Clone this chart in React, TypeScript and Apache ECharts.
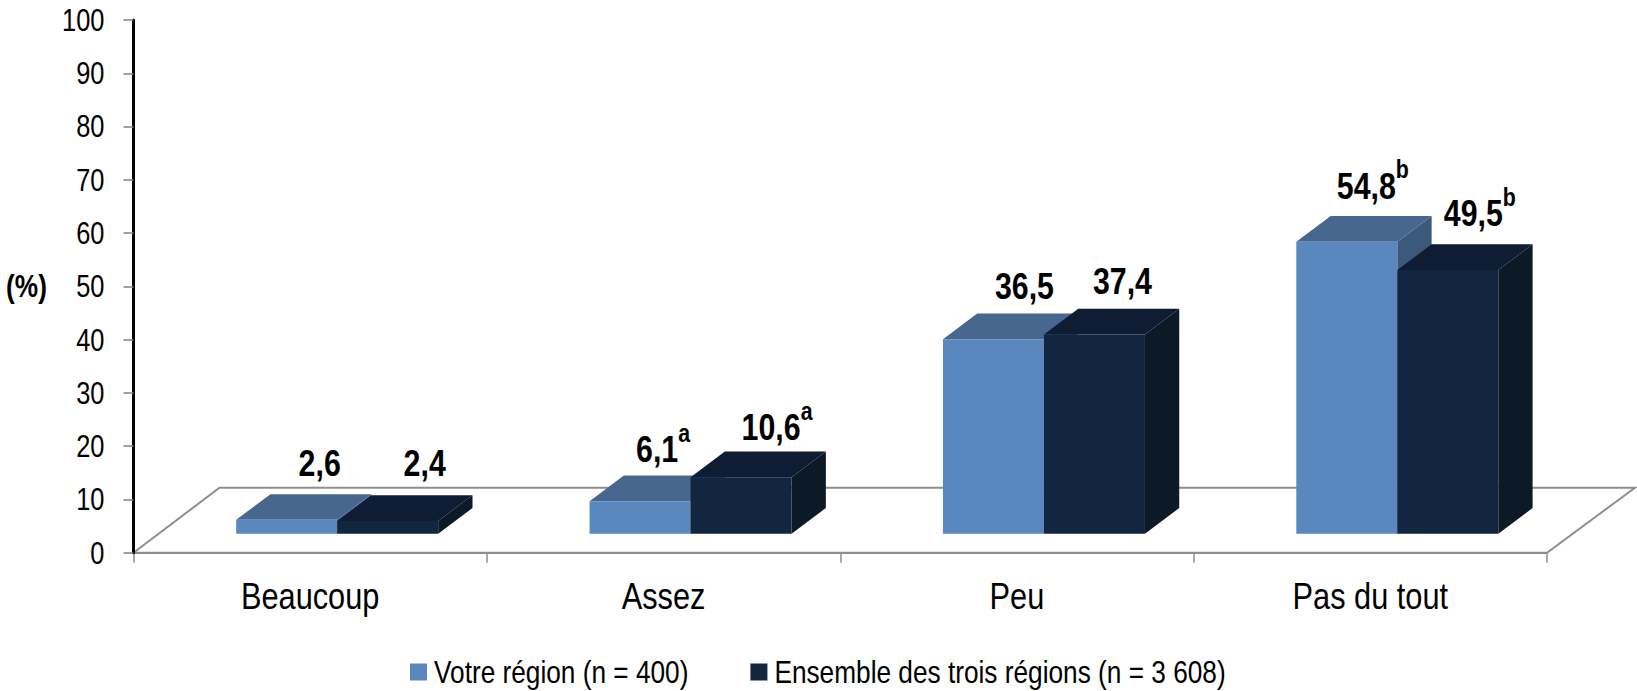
import React, { useEffect, useRef } from "react";
import * as echarts from "echarts";

const categories = ["Beaucoup", "Assez", "Peu", "Pas du tout"];
const yTicks = { min: 0, max: 100, interval: 10 };
const seriesNames = ["Votre région (n = 400)", "Ensemble des trois régions (n = 3 608)"];
const regionValues = [2.6, 6.1, 36.5, 54.8];
const allValues = [2.4, 10.6, 37.4, 49.5];
const regionLabels = ["2,6", "6,1", "36,5", "54,8"];
const allLabels = ["2,4", "10,6", "37,4", "49,5"];
const regionMarks = ["", "a", "", "b"];
const allMarks = ["", "a", "", "b"];

const FONT = '"Liberation Sans", Arial, sans-serif';
const NARROW = 0.82;
const BAR_W = 101;
const BAR_SHIFT = 27;
const LIFT = 19;
const DX = 34.3;
const DY = 25.7;
const labelDx = [
  [33, 37],
  [23, 36],
  [31, 28],
  [26, 32],
];
const labelDy = [
  [5, 6],
  [0, -2],
  [1, 1],
  [4, 5],
];
const palette = [
  { front: "#5B87BF", top: "#47678F", side: "#3C597C" },
  { front: "#12263F", top: "#0E1D33", side: "#0C1927" },
];

function floorItem(_: any, api: any) {
  const [x0, y0] = api.coord([0, 0]);
  const size = api.size([1, 0]);
  const x1 = x0 + size[0] * 3.5;
  const xl = x0 - size[0] * 0.5;
  const top = y0 - 65;
  return {
    type: "polygon",
    silent: true,
    shape: { points: [[xl, y0], [xl + 86, top], [x1 + 88, top], [x1, y0]] },
    style: { fill: "#FFFFFF", stroke: "#8E8E8E", lineWidth: 2 },
  };
}

function barItem(s: number, labels: string[], marks: string[]) {
  return (params: any, api: any) => {
    const i = api.value(0);
    const c = api.coord([i, api.value(1)]);
    const base = api.coord([i, 0]);
    const left = c[0] + BAR_SHIFT + (s === 0 ? -BAR_W : 0);
    const right = left + BAR_W;
    const yTop = c[1] - LIFT;
    const yBot = base[1] - LIFT;
    const col = palette[s];
    const mark = marks[params.dataIndex];
    const text = `{v|${labels[params.dataIndex]}}` + (mark ? `{s|${mark}}` : "");
    return {
      type: "group",
      children: [
        {
          type: "polygon",
          shape: { points: [[right, yTop], [right + DX, yTop - DY], [right + DX, yBot - DY], [right, yBot]] },
          style: { fill: col.side },
        },
        {
          type: "polygon",
          shape: { points: [[left, yTop], [left + DX, yTop - DY], [right + DX, yTop - DY], [right, yTop]] },
          style: { fill: col.top },
        },
        {
          type: "rect",
          shape: { x: left, y: yTop, width: BAR_W, height: yBot - yTop },
          style: { fill: col.front },
        },
        {
          type: "text",
          x: (left + right) / 2 + labelDx[params.dataIndex][s],
          y: yTop - DY - 8 - labelDy[params.dataIndex][s],
          scaleX: NARROW,
          style: {
            text,
            align: "center",
            verticalAlign: "bottom",
            rich: {
              v: { fontFamily: FONT, fontWeight: "bold", fontSize: 37, fill: "#000", lineHeight: 37, verticalAlign: "bottom" },
              s: { fontFamily: FONT, fontWeight: "bold", fontSize: 26, fill: "#000", lineHeight: 26, padding: [0, 0, 22, 0], verticalAlign: "bottom" },
            },
          },
        },
      ],
    };
  };
}

export default function App() {
  const ref = useRef<HTMLDivElement>(null);
  useEffect(() => {
    const chart = echarts.init(ref.current!, null, { renderer: "svg" });
    chart.setOption({
      animation: false,
      backgroundColor: "#FFFFFF",
      grid: { left: 133.5, right: 90, top: 20, bottom: 138.3, containLabel: false, outerBoundsMode: "none" },
      legend: {
        left: 405,
        top: 651,
        itemWidth: 17,
        itemHeight: 17,
        itemGap: 6,
        icon: "rect",
        silent: true,
        selectedMode: false,
        data: seriesNames,
        textStyle: { fontFamily: FONT, fontSize: 32, color: "#000", padding: [0, 0, 0, 2] },
      },
      xAxis: {
        type: "category",
        data: categories,
        boundaryGap: true,
        axisLine: { lineStyle: { color: "#8E8E8E", width: 2 } },
        axisTick: { show: true, alignWithLabel: false, length: 10, lineStyle: { color: "#8E8E8E", width: 1.5 } },
        axisLabel: { fontFamily: FONT, fontSize: 37.5, color: "#000", margin: 24 },
        z: 5,
      },
      yAxis: {
        type: "value",
        min: yTicks.min,
        max: yTicks.max,
        interval: yTicks.interval,
        name: "(%)",
        nameLocation: "middle",
        nameRotate: 0,
        nameGap: 84,
        nameTextStyle: { fontFamily: FONT, fontSize: 32, fontWeight: "bold", color: "#000" },
        splitLine: { show: false },
        axisLine: { show: true, lineStyle: { color: "#000", width: 3 } },
        axisTick: { show: true, length: 10, lineStyle: { color: "#808080", width: 1.5 } },
        axisLabel: { fontFamily: FONT, fontSize: 31, color: "#000", margin: 29 },
        z: 6,
      },
      series: [
        {
          type: "custom",
          name: "floor",
          silent: true,
          z: 1,
          data: [[0, 0]],
          renderItem: floorItem,
          encode: { x: 0, y: 1 },
        },
        {
          type: "custom",
          name: seriesNames[0],
          silent: true,
          z: 2,
          itemStyle: { color: palette[0].front },
          data: regionValues.map((v, i) => [i, v]),
          renderItem: barItem(0, regionLabels, regionMarks),
          encode: { x: 0, y: 1 },
        },
        {
          type: "custom",
          name: seriesNames[1],
          silent: true,
          z: 3,
          itemStyle: { color: palette[1].front },
          data: allValues.map((v, i) => [i, v]),
          renderItem: barItem(1, allLabels, allMarks),
          encode: { x: 0, y: 1 },
        },
      ],
    });
    // The reference uses a condensed face; no narrow font is installed, so the
    // axis and legend texts are squeezed horizontally around their anchor.
    chart.getZr().flush();
    ref.current!.querySelectorAll("text").forEach((el: any) => {
      const orig = el.getAttribute("transform") || "";
      const m = el.transform.baseVal.consolidate()?.matrix;
      if (m && Math.abs(m.a - 1) > 1e-6) return;
      const x = parseFloat(el.getAttribute("x") || "0");
      const ax = m ? m.a * x + m.e : x;
      el.setAttribute("transform", `translate(${ax} 0) scale(${NARROW} 1) translate(${-ax} 0) ${orig}`);
    });
    return () => chart.dispose();
  }, []);
  return (
    <div
      ref={ref}
      style={{ position: "fixed", left: 0, top: 0, width: 1637, height: 691 }}
    />
  );
}
